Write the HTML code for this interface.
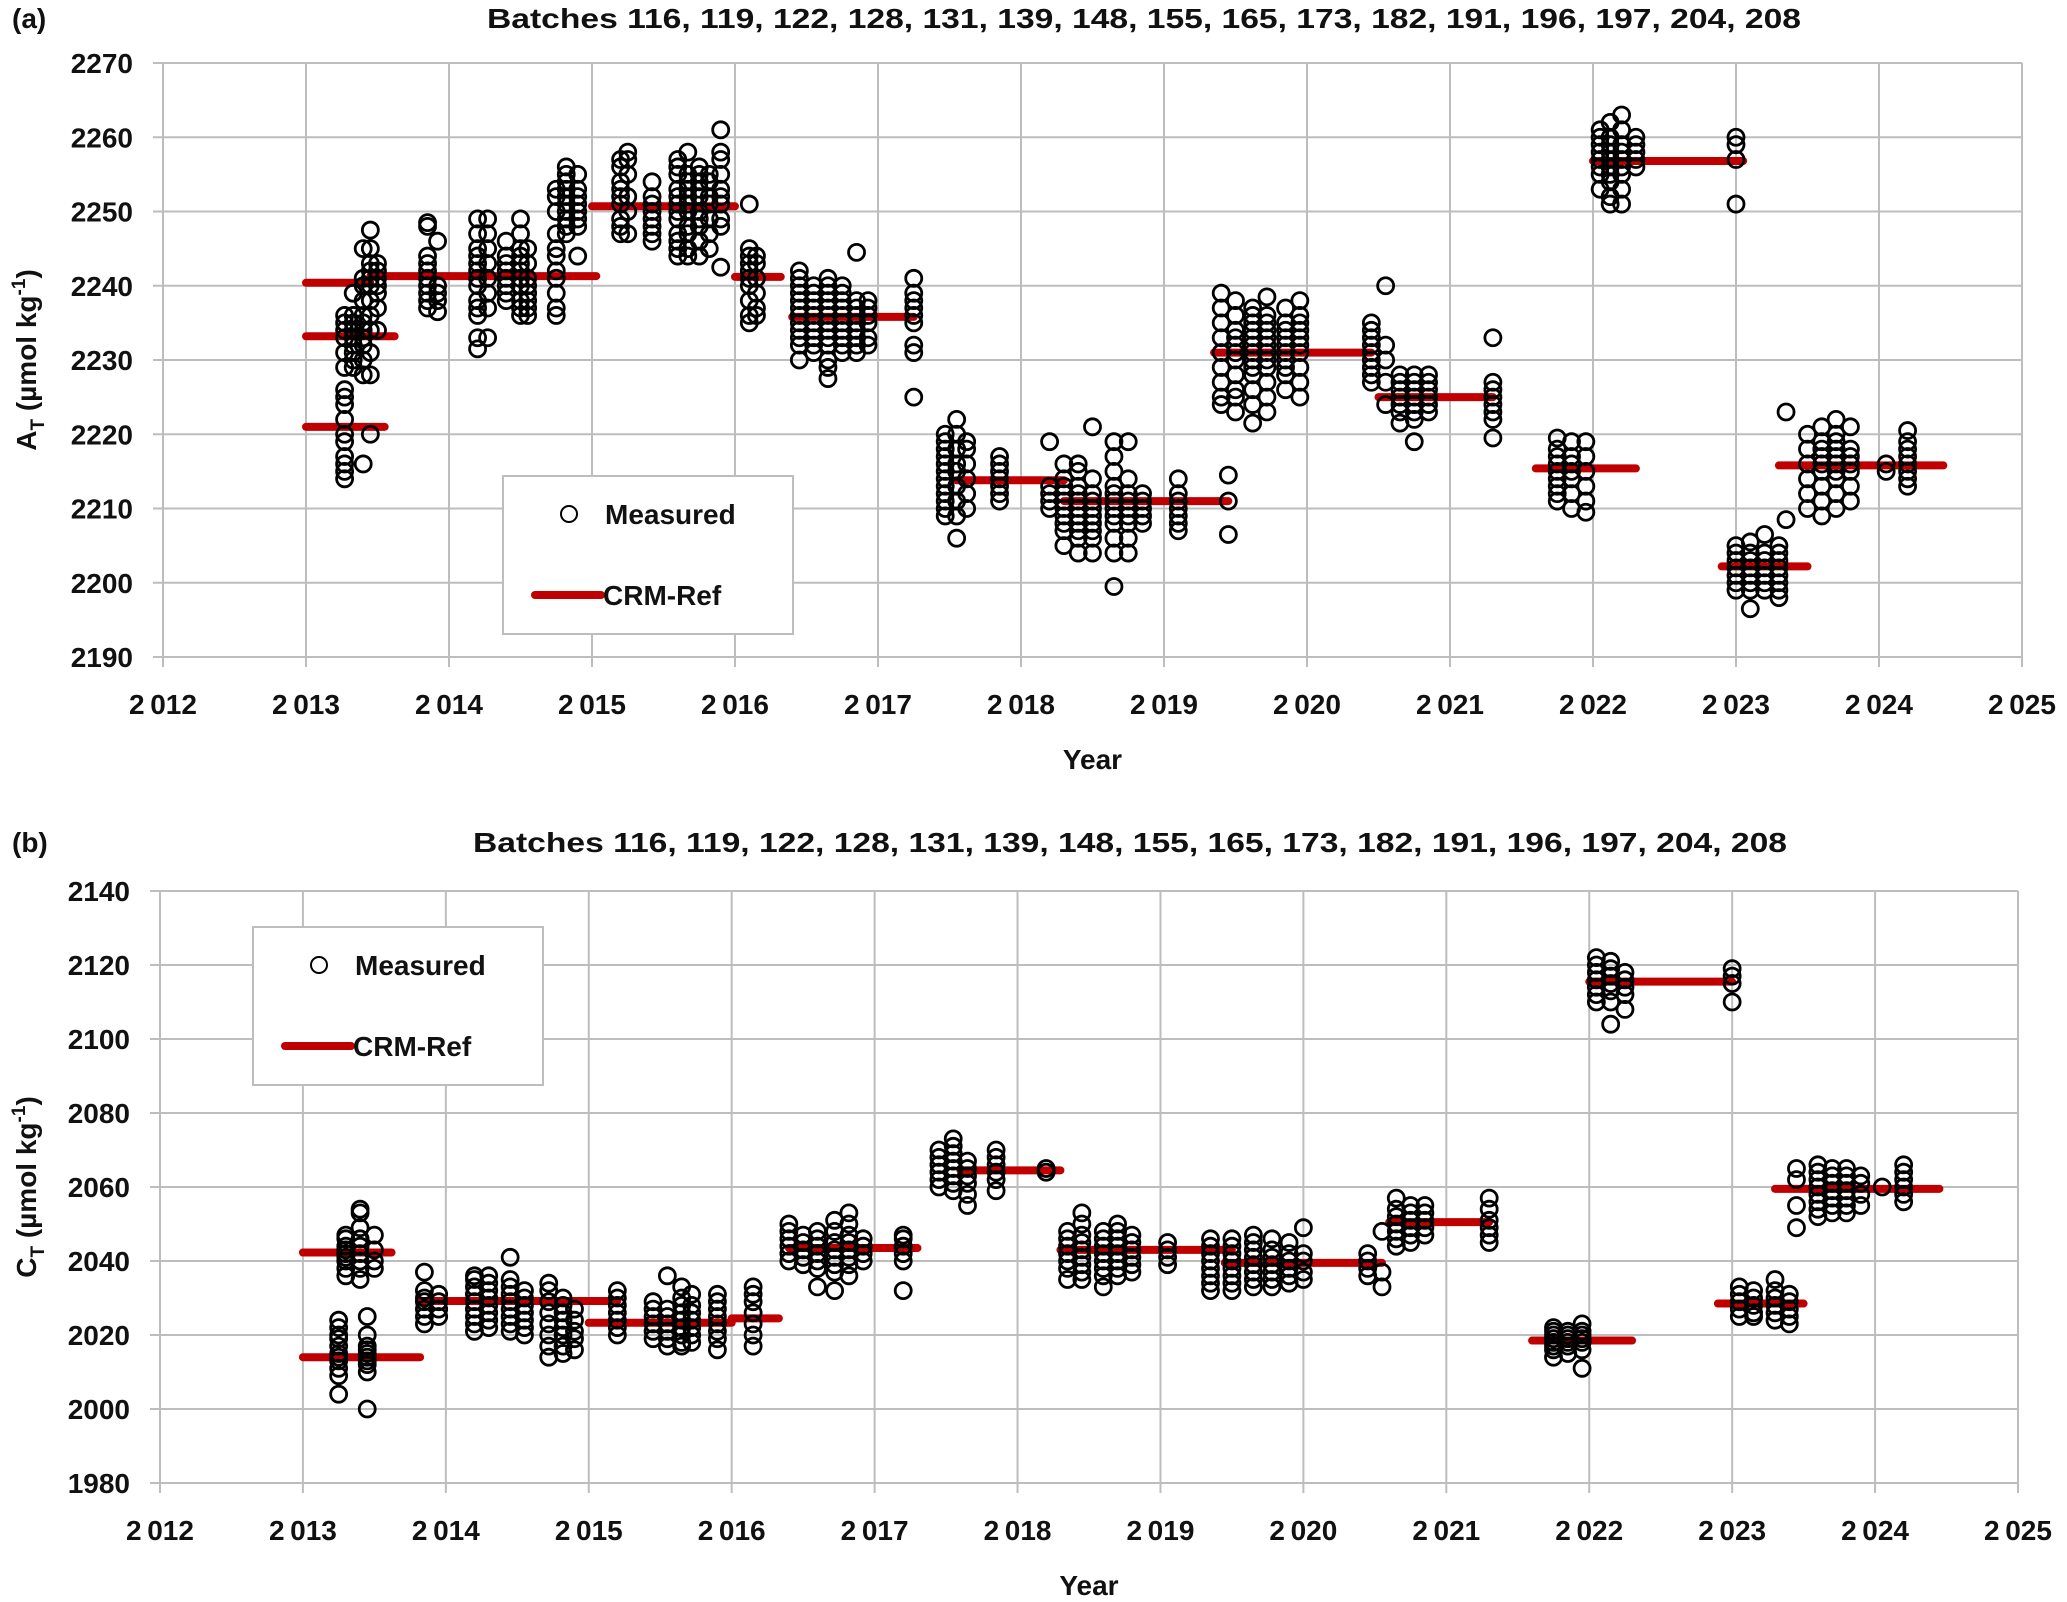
<!DOCTYPE html>
<html><head><meta charset="utf-8"><style>
html,body{margin:0;padding:0;background:#fff}
svg{display:block}
text{font-family:"Liberation Sans",Arial,sans-serif;fill:#111}
</style></head><body>
<svg id="root" width="2067" height="1602" viewBox="0 0 2067 1602"></svg>
<script>
// ---------- data: panel (a) total alkalinity ----------
const aYears = [2012,2013,2014,2015,2016,2017,2018,2019,2020,2021,2022,2023,2024,2025];
const aYTicks = [2190,2200,2210,2220,2230,2240,2250,2260,2270];
const aRefStart = [2013.0,2013.0,2013.0,2013.45,2015.0,2016.0,2016.4,2017.55,2018.3,2019.35,2020.5,2021.6,2022.0,2022.9,2023.3];
const aRefEnd   = [2013.55,2013.62,2013.45,2015.03,2016.0,2016.32,2017.25,2018.3,2019.45,2020.45,2021.3,2022.3,2023.05,2023.5,2024.45];
const aRefValue = [2221,2233.2,2240.4,2241.3,2250.7,2241.2,2235.8,2213.8,2211,2231,2225,2215.4,2256.8,2202.2,2215.8];
const aColX = [2013.27,2013.33,2013.40,2013.45,2013.5,2013.85,2013.92,2014.2,2014.27,2014.4,2014.5,2014.55,2014.75,2014.82,2014.9,2015.2,2015.25,2015.42,2015.6,2015.67,2015.75,2015.82,2015.9,2016.1,2016.15,2016.45,2016.55,2016.65,2016.75,2016.85,2016.93,2017.25,2017.47,2017.55,2017.62,2017.85,2018.2,2018.3,2018.4,2018.5,2018.65,2018.75,2018.85,2019.1,2019.45,2019.4,2019.5,2019.62,2019.72,2019.85,2019.95,2020.45,2020.55,2020.65,2020.75,2020.85,2021.3,2021.75,2021.85,2021.95,2022.05,2022.12,2022.2,2022.3,2023.0,2023.0,2023.1,2023.2,2023.3,2023.35,2023.5,2023.6,2023.7,2023.8,2024.05,2024.2];
const aColVals = [
[2214,2215,2216,2217,2219,2220,2222,2224,2225,2226,2229,2231,2233,2234,2235,2236],
[2229,2230,2231,2232,2233,2234,2235,2236,2239],
[2216,2228,2230,2232,2233,2234,2235,2236,2238,2240,2241,2245],
[2220,2228,2231,2234,2236,2238,2240,2241,2242,2243,2245,2247.5],
[2234,2237,2239,2240,2241,2242,2243],
[2237,2238,2239,2240,2241,2242,2243,2244,2248,2248.5],
[2236.5,2238,2239,2240,2246],
[2231.5,2233,2236,2237,2238,2240,2241,2242,2243,2244,2245,2247,2249],
[2233,2237,2239,2241,2243,2245,2247,2249],
[2238,2239,2240,2241,2242,2243,2244,2246],
[2236,2237,2238,2240,2241,2242,2243,2244,2245,2247,2249],
[2236,2237,2238,2239,2240,2241,2243,2245],
[2236,2237,2239,2241,2242,2244,2245,2247,2250,2252,2253],
[2247,2248,2249,2250,2251,2252,2253,2254,2255,2256],
[2244,2248,2249,2250,2251,2252,2253,2255],
[2247,2248,2249,2251,2252,2253,2254,2256,2257],
[2247,2250,2252,2255,2257,2258],
[2246,2247,2248,2249,2250,2251,2252,2254],
[2244,2245,2246,2247,2249,2250,2251,2252,2253,2255,2256,2257],
[2244,2245,2247,2248,2250,2251,2252,2253,2254,2255,2258],
[2244,2246,2248,2249,2250,2252,2253,2254,2255,2256],
[2245,2247,2249,2251,2252,2254,2255],
[2242.5,2248,2249,2251,2252,2253,2255,2257,2258,2261],
[2235,2236,2238,2240,2241,2242,2243,2244,2245,2251],
[2236,2237,2239,2241,2243,2244],
[2230,2232,2233,2234,2235,2236,2237,2238,2239,2240,2241,2242],
[2231,2232,2233,2234,2235,2236,2237,2238,2239,2240],
[2227.5,2229,2230,2232,2233,2234,2235,2236,2237,2238,2239,2240,2241],
[2231,2232,2233,2234,2235,2236,2237,2238,2239,2240],
[2231,2232,2233,2234,2235,2236,2237,2238,2244.5],
[2232,2233,2235,2236,2237,2238],
[2225,2231,2232,2235,2236,2237,2238,2239,2241],
[2209,2210,2211,2212,2213,2214,2215,2216,2217,2218,2219,2220],
[2206,2209,2211,2213,2215,2216,2218,2220,2222],
[2210,2212,2214,2216,2218,2219],
[2211,2212,2213,2214,2215,2216,2217],
[2210,2211,2212,2213,2219],
[2205,2207,2208,2209,2210,2211,2212,2213,2214,2216],
[2204,2206,2207,2208,2209,2210,2211,2212,2213,2215,2216],
[2204,2206,2207,2208,2209,2210,2211,2212,2214,2221],
[2199.5,2204,2206,2208,2209,2210,2211,2212,2213,2215,2217,2219],
[2204,2206,2208,2209,2210,2211,2212,2214,2219],
[2208,2209,2210,2211,2212],
[2207,2208,2209,2210,2211,2212,2214],
[2206.5,2211,2214.5],
[2224,2225,2227,2229,2231,2233,2235,2237,2239],
[2223,2225,2226,2228,2230,2231,2232,2233,2234,2236,2238],
[2221.5,2224,2226,2228,2229,2230,2231,2232,2233,2234,2235,2236,2237],
[2223,2225,2227,2229,2230,2231,2232,2233,2234,2235,2236,2238.5],
[2226,2228,2229,2230,2231,2232,2233,2234,2235,2237],
[2225,2227,2229,2231,2232,2233,2234,2235,2236,2238],
[2227,2228,2229,2230,2231,2232,2233,2234,2235],
[2224,2227,2230,2232,2240],
[2221.5,2223,2224,2225,2226,2227,2228],
[2219,2222,2223,2224,2225,2226,2227,2228],
[2223,2224,2225,2226,2227,2228],
[2219.5,2222,2223,2224,2225,2226,2227,2233],
[2211,2212,2213,2214,2215,2216,2217,2218,2219.5],
[2210,2212,2214,2215,2216,2217,2219],
[2209.5,2211,2213,2215,2217,2219],
[2253,2255,2256,2257,2258,2259,2260,2261],
[2251,2252,2254,2255,2256,2257,2258,2259,2260,2262],
[2251,2253,2255,2256,2257,2258,2259,2261,2263],
[2256,2257,2258,2259,2260],
[2251,2257,2259,2260],
[2199,2200,2201,2202,2203,2204,2205],
[2196.5,2199,2200,2201,2202,2203,2204,2205.5],
[2199,2200,2201,2202,2203,2204,2206.5],
[2198,2199,2200,2201,2202,2203,2204,2205],
[2208.5,2223],
[2210,2212,2214,2216,2218,2220],
[2209,2211,2213,2215,2216,2217,2218,2219,2221],
[2210,2212,2214,2215,2216,2217,2218,2219,2220,2222],
[2211,2213,2215,2216,2217,2218,2221],
[2215,2216],
[2213,2214,2215,2216,2217,2218,2219,2220.5]
];
// ---------- data: panel (b) dissolved inorganic carbon ----------
const bYears = [2012,2013,2014,2015,2016,2017,2018,2019,2020,2021,2022,2023,2024,2025];
const bYTicks = [1980,2000,2020,2040,2060,2080,2100,2120,2140];
const bRefStart = [2013.0,2013.0,2013.82,2015.0,2016.0,2016.4,2017.6,2018.3,2019.45,2020.6,2021.6,2022.0,2022.9,2023.3];
const bRefEnd   = [2013.62,2013.82,2015.2,2016.0,2016.33,2017.3,2018.3,2019.5,2020.55,2021.3,2022.3,2023.0,2023.5,2024.45];
const bRefValue = [2042.3,2014,2029.2,2023.3,2024.5,2043.5,2064.5,2043,2039.5,2050.5,2018.5,2115.5,2028.5,2059.5];
const bColX = [2013.25,2013.3,2013.4,2013.45,2013.5,2013.85,2013.95,2014.2,2014.3,2014.45,2014.55,2014.72,2014.82,2014.9,2015.2,2015.45,2015.55,2015.65,2015.72,2015.9,2016.15,2016.4,2016.5,2016.6,2016.72,2016.82,2016.92,2017.2,2017.45,2017.55,2017.65,2017.85,2018.2,2018.35,2018.45,2018.6,2018.7,2018.8,2019.05,2019.35,2019.5,2019.65,2019.78,2019.9,2020.0,2020.45,2020.55,2020.65,2020.75,2020.85,2021.3,2021.75,2021.85,2021.95,2022.05,2022.15,2022.25,2023.0,2023.05,2023.15,2023.3,2023.4,2023.45,2023.6,2023.7,2023.8,2023.9,2024.05,2024.2];
const bColVals = [
[2004,2009,2011,2013,2014,2015,2017,2019,2020,2022,2024],
[2036,2038,2040,2041,2042,2043,2044,2046,2047],
[2035,2038,2040,2042,2044,2046,2049,2053,2054],
[2000,2010,2012,2013,2014,2015,2016,2017,2020,2025],
[2038,2040,2043,2047],
[2023,2025,2027,2029,2030,2032,2037],
[2025,2027,2029,2031],
[2021,2023,2025,2027,2029,2031,2033,2035,2036],
[2022,2024,2026,2028,2030,2032,2034,2036],
[2021,2023,2025,2027,2029,2031,2033,2035,2041],
[2020,2022,2024,2026,2028,2030,2032],
[2014,2017,2020,2023,2026,2029,2032,2034],
[2015,2017,2020,2022,2024,2026,2028,2030],
[2016,2019,2021,2024,2027],
[2020,2022,2024,2026,2028,2030,2032],
[2019,2021,2023,2025,2027,2029],
[2017,2019,2021,2023,2025,2027,2036],
[2017,2018,2020,2022,2024,2026,2028,2030,2033],
[2018,2020,2022,2024,2026,2028,2031],
[2016,2019,2021,2023,2025,2027,2029,2031],
[2017,2020,2023,2026,2029,2031,2033],
[2040,2042,2044,2046,2048,2050],
[2039,2041,2043,2045,2047],
[2033,2038,2040,2042,2044,2046,2048],
[2032,2037,2039,2041,2043,2045,2048,2051],
[2036,2039,2041,2043,2045,2047,2050,2053],
[2040,2042,2044,2046],
[2032,2040,2042,2044,2046,2047],
[2060,2062,2064,2066,2068,2070],
[2059,2061,2063,2065,2067,2069,2071,2073],
[2055,2058,2061,2063,2065,2067],
[2059,2062,2064,2066,2068,2070],
[2064,2065],
[2035,2038,2040,2042,2044,2046,2048],
[2035,2037,2039,2041,2043,2045,2047,2050,2053],
[2033,2036,2038,2040,2042,2044,2046,2048],
[2036,2038,2040,2042,2044,2046,2048,2050],
[2037,2039,2041,2043,2045,2047],
[2039,2041,2043,2045],
[2032,2034,2036,2038,2040,2042,2044,2046],
[2032,2034,2036,2038,2040,2042,2044,2046],
[2033,2035,2037,2039,2041,2043,2045,2047],
[2033,2035,2037,2039,2041,2043,2046],
[2034,2036,2038,2040,2042,2045],
[2035,2037,2040,2042,2049],
[2036,2038,2040,2042],
[2033,2037,2048],
[2044,2046,2048,2050,2052,2054,2057],
[2045,2047,2049,2051,2053,2055],
[2047,2049,2051,2053,2055],
[2045,2047,2049,2051,2054,2057],
[2014,2016,2017,2018,2019,2020,2021,2022],
[2015,2017,2018,2019,2020,2021],
[2011,2016,2018,2019,2020,2021,2023],
[2110,2112,2114,2116,2118,2120,2122],
[2104,2110,2113,2115,2117,2119,2121],
[2108,2112,2114,2116,2118],
[2110,2115,2117,2119],
[2025,2027,2029,2031,2033],
[2025,2026,2028,2030,2032],
[2024,2026,2028,2030,2032,2035],
[2023,2025,2027,2029,2031],
[2049,2055,2062,2065],
[2052,2054,2056,2058,2060,2062,2064,2066],
[2053,2055,2057,2059,2061,2063,2065],
[2053,2055,2057,2059,2061,2063,2065],
[2055,2058,2061,2063],
[2060],
[2056,2058,2060,2062,2064,2066]
];
const titleText = "Batches 116, 119, 122, 128, 131, 139, 148, 155, 165, 173, 182, 191, 196, 197, 204, 208";

const NS = "http://www.w3.org/2000/svg";
const root = document.getElementById('root');
function mk(tag, attrs, parent){
  const e = document.createElementNS(NS, tag);
  for (const k in attrs) e.setAttribute(k, attrs[k]);
  (parent||root).appendChild(e);
  return e;
}

function panel(cfg){
  const g = mk('g', {});
  
  
  const xs = v => cfg.x0 + (v - cfg.xmin) / (cfg.xmax - cfg.xmin) * (cfg.x1 - cfg.x0);
  const ys = v => cfg.y1 - (v - cfg.ymin) / (cfg.ymax - cfg.ymin) * (cfg.y1 - cfg.y0);
  cfg.yTicks.forEach(t => {
    const l = mk('line', {x1:cfg.x0-10, x2:cfg.x1, y1:ys(t), y2:ys(t), stroke:'#bdbdbd', 'stroke-width':2}, g);
    
    
    const tx = mk('text', {x:cfg.x0-30, y:ys(t)+10, 'text-anchor':'end', 'font-size':28, 'font-weight':'bold'}, g);
    tx.textContent = t;
    
    
  });
  cfg.xTicks.forEach(t => {
    const l = mk('line', {x1:xs(t), x2:xs(t), y1:cfg.y0, y2:cfg.y1+10, stroke:'#bdbdbd', 'stroke-width':2}, g);
    
    
    const tx = mk('text', {x:xs(t), y:cfg.y1+57, 'text-anchor':'middle', 'font-size':28, 'font-weight':'bold'}, g);
    tx.textContent = String(t).slice(0,1) + '\u2009' + String(t).slice(1);
    
    
  });
  cfg.refS.forEach((s, i) => {
    const l = mk('line', {x1:xs(s), x2:xs(cfg.refE[i]), y1:ys(cfg.refV[i]), y2:ys(cfg.refV[i]), stroke:'#c00000', 'stroke-width':8, 'stroke-linecap':'round'}, g);
    
    
  });
  cfg.colX.forEach((x, i) => {
    cfg.colV[i].forEach(v => {
      const c = mk('circle', {cx:xs(x), cy:ys(v), r:8, fill:'none', stroke:'#000', 'stroke-width':2.8}, g);
      
      
    });
  });
  const tt = mk('text', {x:cfg.titleX, y:cfg.titleY, 'text-anchor':'middle', 'font-size':28, 'font-weight':'bold', textLength:1314, lengthAdjust:'spacingAndGlyphs'}, g);
  tt.textContent = titleText;
  
  
  const lab = mk('text', {x:12, y:cfg.titleY, 'font-size':28, 'font-weight':'bold'}, g);
  lab.textContent = cfg.label;
  
  
  const xt = mk('text', {x:(cfg.x0+cfg.x1)/2, y:cfg.y1+112, 'text-anchor':'middle', 'font-size':28, 'font-weight':'bold'}, g);
  xt.textContent = 'Year';
  
  
  const yt = mk('text', {x:0, y:0, 'text-anchor':'middle', 'font-size':28, 'font-weight':'bold', transform:`translate(36,${(cfg.y0+cfg.y1)/2}) rotate(-90)`}, g);
  yt.innerHTML = cfg.yLetter + '<tspan font-size="19" dy="8">T</tspan><tspan dy="-8"> (\u00b5mol kg</tspan><tspan font-size="19" dy="-11">-1</tspan><tspan dy="11">)</tspan>';
  
  
  const L = cfg.legend;
  const lg = mk('g', {}, g);
  
  
  mk('rect', {x:L.x, y:L.y, width:290, height:158, fill:'#fff', stroke:'#bdbdbd', 'stroke-width':2}, lg);
  const lc = mk('circle', {cx:L.x+66, cy:L.y+38, r:8, fill:'none', stroke:'#000', 'stroke-width':2}, lg);
  
  
  const l1 = mk('text', {x:L.x+102, y:L.y+48, 'font-size':28, 'font-weight':'bold'}, lg);
  l1.textContent = 'Measured';
  
  
  const ll = mk('line', {x1:L.x+32, x2:L.x+98, y1:L.y+119, y2:L.y+119, stroke:'#c00000', 'stroke-width':8, 'stroke-linecap':'round'}, lg);
  
  
  const l2 = mk('text', {x:L.x+100, y:L.y+129, 'font-size':28, 'font-weight':'bold'}, lg);
  l2.textContent = 'CRM-Ref';
  
  
}

panel({name:'panel-a-alkalinity', label:'(a)', yLetter:'A', x0:163, x1:2022, y0:63, y1:657, xmin:2012, xmax:2025, ymin:2190, ymax:2270,
  xTicks:aYears, yTicks:aYTicks, refS:aRefStart, refE:aRefEnd, refV:aRefValue, colX:aColX, colV:aColVals,
  titleX:1144, titleY:28, legend:{x:503, y:476}});
panel({name:'panel-b-dic', label:'(b)', yLetter:'C', x0:160, x1:2018, y0:891, y1:1483, xmin:2012, xmax:2025, ymin:1980, ymax:2140,
  xTicks:bYears, yTicks:bYTicks, refS:bRefStart, refE:bRefEnd, refV:bRefValue, colX:bColX, colV:bColVals,
  titleX:1130, titleY:852, legend:{x:253, y:927}});
</script>
</body></html>
